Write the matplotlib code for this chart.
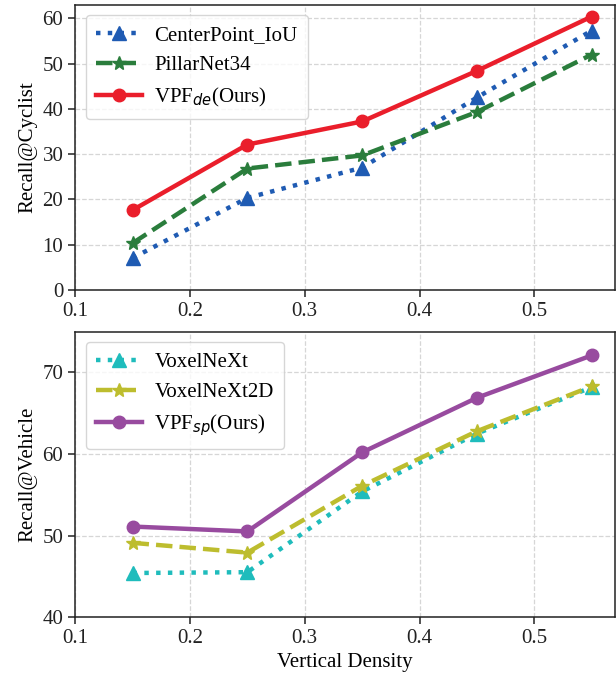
import matplotlib
matplotlib.use("Agg")
import matplotlib.pyplot as plt

density = [0.15, 0.25, 0.35, 0.45, 0.55]

cyc_centerpoint = [7.0, 20.3, 27.0, 42.5, 57.3]
cyc_pillarnet = [10.3, 26.8, 29.7, 39.3, 52.0]
cyc_vpf = [17.6, 32.1, 37.2, 48.4, 60.4]

veh_voxelnext = [45.4, 45.5, 55.4, 62.5, 68.2]
veh_voxelnext2d = [49.1, 47.9, 56.1, 62.8, 68.3]
veh_vpf = [51.1, 50.5, 60.2, 66.9, 72.1]

plt.rcParams['font.family'] = ['Liberation Serif', 'DejaVu Serif']
plt.rcParams['mathtext.fontset'] = 'dejavusans'

fig = plt.figure(figsize=(6.16, 6.77), dpi=100)
ax1 = fig.add_axes([0.122, 0.572, 0.876, 0.421])
ax2 = fig.add_axes([0.122, 0.0886, 0.876, 0.4214])

fs = 15

def style(ax):
    ax.grid(True, linestyle='--', color='#d6d6d6', linewidth=0.9)
    ax.set_axisbelow(True)
    for s in ax.spines.values():
        s.set_color('#222222')
        s.set_linewidth(1.1)
    ax.tick_params(labelsize=fs, length=5, width=1.1, direction='out', colors='#222222')
    ax.set_xlim(0.1, 0.57)
    ax.set_xticks([0.1, 0.2, 0.3, 0.4, 0.5])

def legend(ax):
    ax.legend(loc='upper left', fontsize=fs, frameon=True, edgecolor='#cccccc', fancybox=True,
              handlelength=2.2, handletextpad=0.6, borderpad=0.5, labelspacing=0.5)

lw = 3.2
ms = 9
ax1.plot(density, cyc_centerpoint, linestyle=':', marker='^', color='#1f5bb3', lw=lw, ms=ms + 1, label='CenterPoint_IoU')
ax1.plot(density, cyc_pillarnet, linestyle='--', marker='*', color='#2a7d3c', lw=lw, ms=ms + 1, label='PillarNet34')
ax1.plot(density, cyc_vpf, linestyle='-', marker='o', color='#ea1e2b', lw=lw, ms=ms, label=r'VPF$_{de}$(Ours)')
style(ax1)
ax1.set_ylim(0, 63)
ax1.set_yticks([0, 10, 20, 30, 40, 50, 60])
ax1.set_ylabel('Recall@Cyclist', fontsize=fs)
legend(ax1)

ax2.plot(density, veh_voxelnext, linestyle=':', marker='^', color='#1fbcbc', lw=lw, ms=ms + 1, label='VoxelNeXt')
ax2.plot(density, veh_voxelnext2d, linestyle='--', marker='*', color='#bdbd2e', lw=lw, ms=ms + 1, label='VoxelNeXt2D')
ax2.plot(density, veh_vpf, linestyle='-', marker='o', color='#984b9f', lw=lw, ms=ms, label=r'VPF$_{sp}$(Ours)')
style(ax2)
ax2.set_ylim(40, 75)
ax2.set_yticks([40, 50, 60, 70])
ax2.set_ylabel('Recall@Vehicle', fontsize=fs)
ax2.set_xlabel('Vertical Density', fontsize=fs)
legend(ax2)

fig.savefig('out.png', dpi=100)
